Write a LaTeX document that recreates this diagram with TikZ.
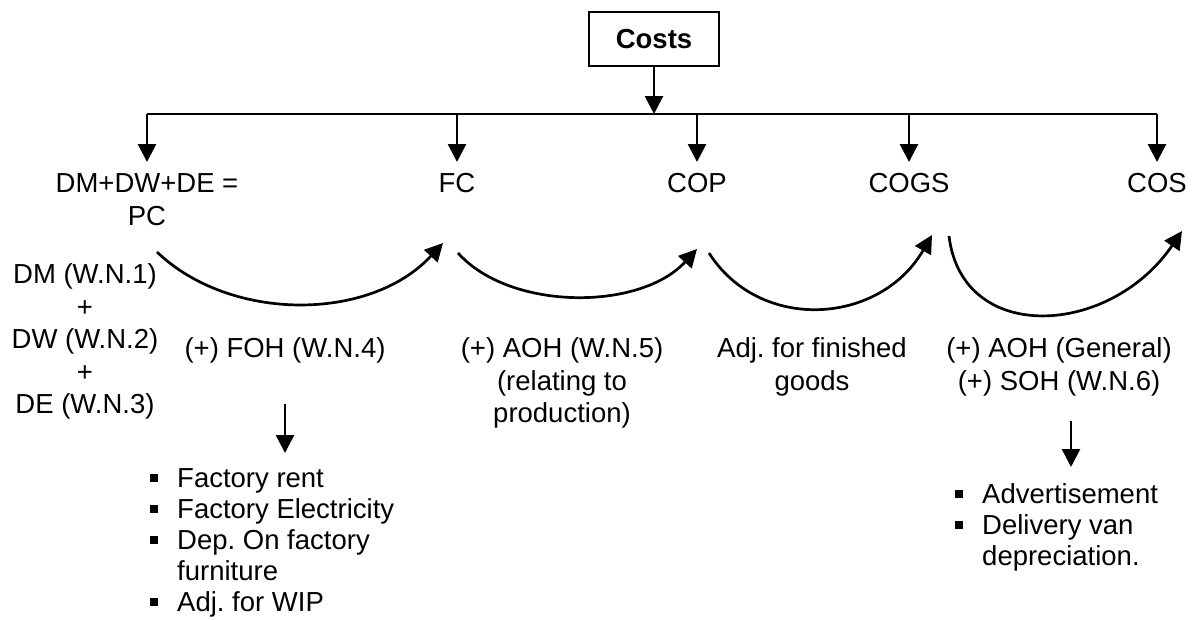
\documentclass[tikz,border=0pt]{standalone}
\usepackage{fontspec}
\setmainfont{Liberation Sans}
\usetikzlibrary{arrows.meta,calc}
\newcommand{\bul}{\makebox[27pt][l]{\rule[5pt]{8pt}{8pt}}}
\frenchspacing

\begin{document}
\begin{tikzpicture}[x=1pt,y=-1pt,
  font=\fontsize{27.5}{32.5}\selectfont,
  tip/.style={line width=2.7pt,-{Triangle[width=18pt,length=18pt]}},
  lbl/.style={anchor=north,inner sep=0pt,align=center},
  lst/.style={anchor=north west,inner sep=0pt,align=left,font=\fontsize{27.5}{31}\selectfont}]
\useasboundingbox (0,0) rectangle (1197,619);

\node[draw,line width=2.2pt,minimum width=130pt,minimum height=54pt,inner sep=0pt,
  font=\fontsize{27.5}{32}\selectfont\bfseries] (costs) at (654,39) {Costs};

% bus line
\coordinate (busL) at (147,114);
\coordinate (busR) at (1157,114);
\draw[line width=2.7pt] (busL) -- (busR);
\draw[tip] (costs.south) -- (costs.south |- busL);

\node[lbl] (pc) at (147,173.5) {DM+DW+DE =\\PC};
\node[lbl] (fc) at (457,173.5) {FC};
\node[lbl] (cop) at (697,173.5) {COP};
\node[lbl] (cogs) at (909,173.5) {COGS};
\node[lbl] (cos) at (1157,173.5) {COS};
\foreach \n in {pc,fc,cop,cogs,cos}
  \draw[tip] (\n.north |- busL) -- ([yshift=11.5pt]\n.north);

% curved arrows
\coordinate (pcR) at (157,252);
\coordinate (fcL) at (443,243);
\coordinate (fcR) at (458,253);
\coordinate (copL) at (697,249);
\coordinate (copR) at (709,253);
\coordinate (cogsL) at (932,235);
\coordinate (cogsR) at (949,236);
\coordinate (cosL) at (1182,231);
\draw[tip] (pcR) .. controls +(73,70) and +(-73,79) .. (fcL);
\draw[tip] (fcR) .. controls +(52,58) and +(-57,62) .. (copL);
\draw[tip] (copR) .. controls +(51,80) and +(-52,90) .. (cogsL);
\draw[tip] (cogsR) .. controls +(13,109) and +(-72,106) .. (cosL);

\node[lbl] (dm) at (85,263.5) {DM (W.N.1)\\+\\DW (W.N.2)\\+\\DE (W.N.3)};
\node[lbl] (foh) at (285,337.5) {(+) FOH (W.N.4)};
\node[lbl] (aoh) at (562,337.5) {(+) AOH (W.N.5)\\(relating to\\production)};
\node[lbl] (adj) at (812,337.5) {Adj. for finished\\goods};
\node[lbl] (gen) at (1059,337.5) {(+) AOH (General)\\(+) SOH (W.N.6)};

% expense lists
\node[lst] (fohlist) at (150,468) {\bul Factory rent\\\bul Factory Electricity\\
  \bul Dep. On factory\\\hspace*{27pt}furniture\\\bul Adj. for WIP};
\node[lst] (genlist) at (955,483) {\bul Advertisement\\\bul Delivery van\\
  \hspace*{27pt}depreciation.};
\draw[tip] ([yshift=-40pt]foh.south) -- ([yshift=15pt]fohlist.north -| foh.south);
\draw[tip] ([xshift=12pt,yshift=-25pt]gen.south) -- ([xshift=12pt,yshift=16pt]genlist.north -| gen.south);
\end{tikzpicture}
\end{document}
